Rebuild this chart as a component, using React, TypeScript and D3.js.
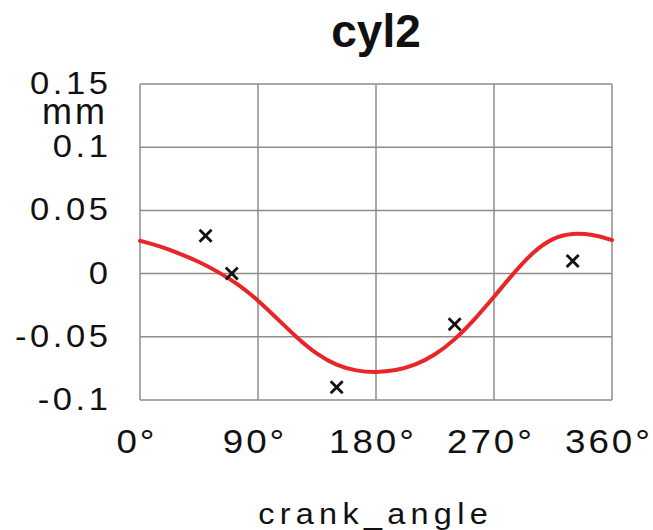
import React from "react";
import * as d3 from "d3";

const curveAngles = [0, 15, 30, 45, 60, 75, 90, 105, 120, 135, 150, 165, 180, 195, 210, 225, 240, 255, 270, 285, 300, 315, 330, 345, 360];
const curveValues = [0.026, 0.0218, 0.016, 0.0095, 0.0012, -0.0085, -0.021, -0.036, -0.051, -0.0640, -0.0727, -0.0771, -0.0782, -0.0768, -0.0725, -0.0645, -0.0525, -0.0365, -0.0185, 0.0005, 0.0175, 0.0285, 0.0322, 0.031, 0.0266];

const markerAngles = [50, 70, 150, 240, 330];
const markerValues = [0.03, 0.0, -0.09, -0.04, 0.01];

const xTicks = [0, 90, 180, 270, 360];
const xTickLabels = ["0°", "90°", "180°", "270°", "360°"];
const yTicks = [0.15, 0.1, 0.05, 0, -0.05, -0.1];
const yTickLabels = ["0.15", "0.1", "0.05", "0", "-0.05", "-0.1"];

const title = "cyl2";
const xTitle = "crank_angle";
const yUnit = "mm";

export default function App() {
  const W = 653, H = 530;
  const x = d3.scaleLinear().domain([0, 360]).range([140, 612]);
  const y = d3.scaleLinear().domain([-0.1, 0.15]).range([400, 84]);
  const pts = curveAngles.map((a, i) => [a, curveValues[i]] as [number, number]);
  const line = d3.line<[number, number]>().x(d => x(d[0])).y(d => y(d[1])).curve(d3.curveBasis);
  const font = "'Liberation Sans', Arial, sans-serif";
  const grid = "#8c8c8c";
  const sx = 1.08;
  return (
    <svg width={W} height={H} style={{ position: "absolute", left: 0, top: 0, background: "#fff" }}>
      <rect x={0} y={0} width={W} height={H} fill="#fff" />
      {yTicks.map(t => (
        <line key={"gy" + t} x1={x(0)} x2={x(360)} y1={y(t)} y2={y(t)} stroke={grid} strokeWidth={1.5} />
      ))}
      {xTicks.map(t => (
        <line key={"gx" + t} x1={x(t)} x2={x(t)} y1={y(-0.1)} y2={y(0.15)} stroke={grid} strokeWidth={1.5} />
      ))}
      <path d={line(pts) || ""} fill="none" stroke="#e8262a" strokeWidth={4} strokeLinecap="round" />
      {markerAngles.map((a, i) => {
        const cx = x(a), cy = y(markerValues[i]);
        const s = 6;
        return (
          <g key={"m" + i} stroke="#111" strokeWidth={2.8}>
            <line x1={cx - s} y1={cy - s} x2={cx + s} y2={cy + s} />
            <line x1={cx - s} y1={cy + s} x2={cx + s} y2={cy - s} />
          </g>
        );
      })}
      {yTicks.map((t, i) => (
        <g key={"ty" + t} transform={`translate(${108 + 3.3 * sx},${y(t) + 10}) scale(${sx},1)`}>
          <text x={0} y={0} textAnchor="end" fontFamily={font} fontSize={32} letterSpacing={3.3} fill="#111">
            {yTickLabels[i]}
          </text>
        </g>
      ))}
      <g transform="translate(108,124)">
        <text x={0} y={0} textAnchor="end" fontFamily={font} fontSize={36} letterSpacing={3} fill="#111">{yUnit}</text>
      </g>
      {xTicks.map((t, i) => (
        <g key={"tx" + t} transform={`translate(${x(t) - 3},453) scale(${sx},1)`}>
          <text x={0} y={0} textAnchor="middle" fontFamily={font} fontSize={34} letterSpacing={2.8} fill="#111">
            {xTickLabels[i]}
          </text>
        </g>
      ))}
      <g transform={`translate(${373 + 2.4 * sx},524) scale(${sx},1)`}>
        <text x={0} y={0} textAnchor="middle" fontFamily={font} fontSize={30} letterSpacing={4.9} fill="#111">{xTitle}</text>
      </g>
      <text x={376} y={47} textAnchor="middle" fontFamily={font} fontSize={46} fontWeight="bold" fill="#111">{title}</text>
    </svg>
  );
}
